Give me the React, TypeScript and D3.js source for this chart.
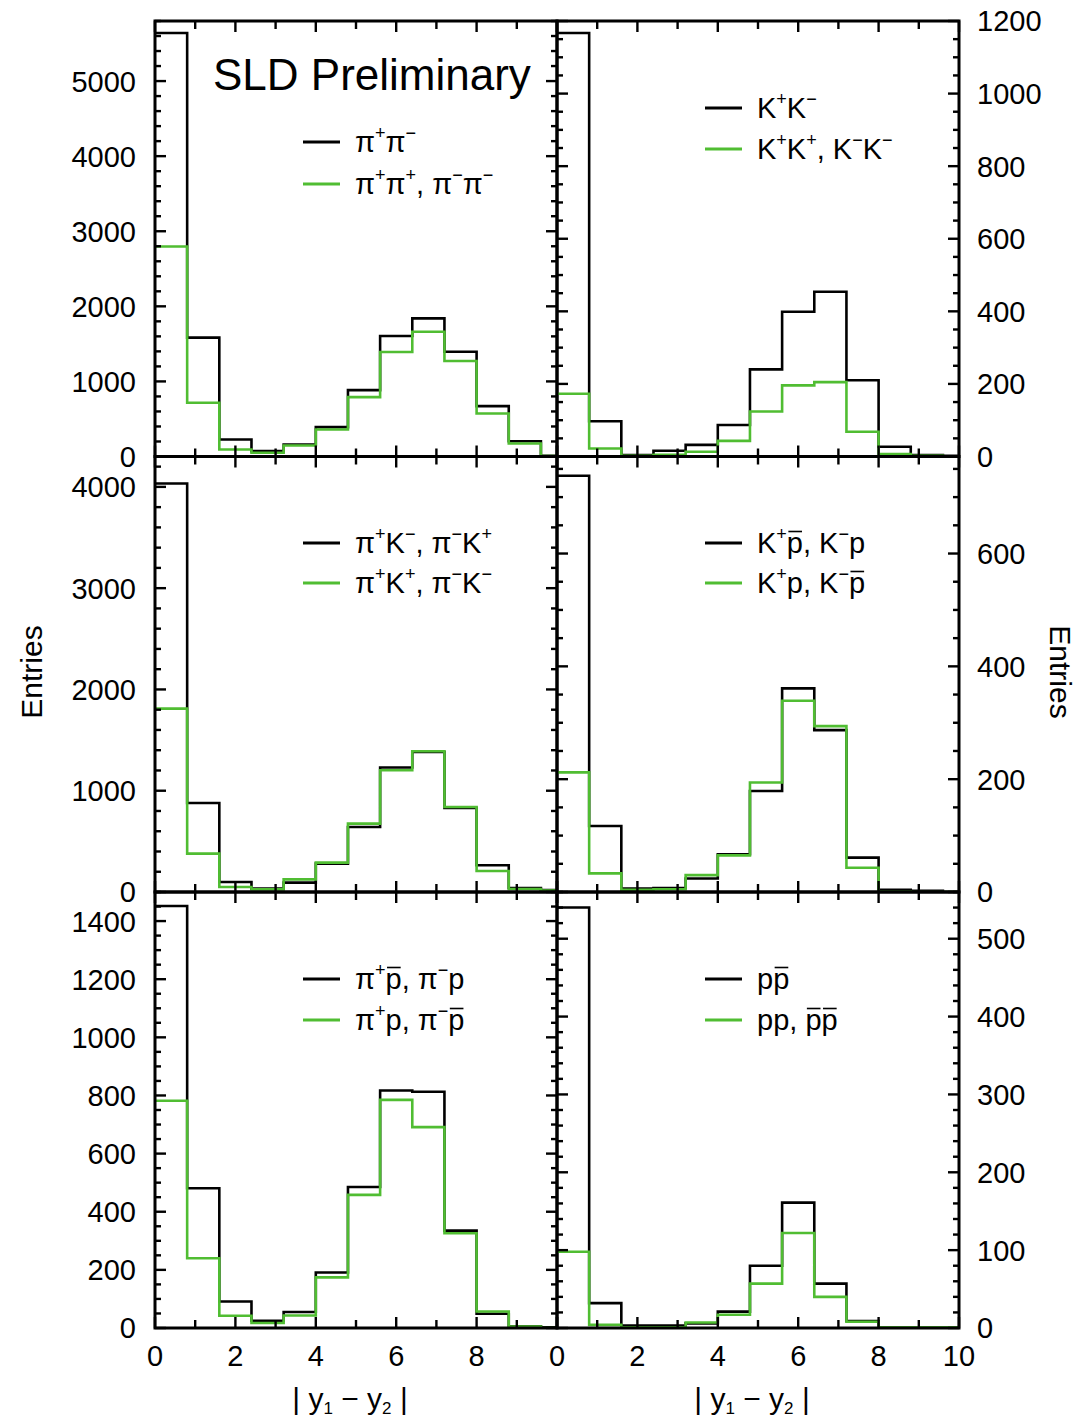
import React, { useLayoutEffect, useRef, useState } from 'react';
import * as d3 from 'd3';

// bin edges of |y1 - y2| (0.8 wide, last bin runs past 10 and is clipped)
const binEdges = [0, 0.8, 1.6, 2.4, 3.2, 4.0, 4.8, 5.6, 6.4, 7.2, 8.0, 8.8, 9.6, 10.4];

// opposite-sign (black) and same-sign (green) pairs
const pipiOpp = [5640, 1583, 227, 71, 160, 391, 884, 1604, 1840, 1396, 671, 204, 8];
const pipiSame = [2797, 716, 93, 49, 147, 360, 791, 1391, 1662, 1271, 573, 173, 5];
const kkOpp = [1167, 97, 4, 16, 32, 87, 240, 399, 454, 210, 27, 4, 2];
const kkSame = [173, 22, 2, 5, 13, 43, 124, 196, 205, 68, 7, 2, 0];
const piKOpp = [4034, 879, 99, 33, 93, 280, 642, 1229, 1383, 830, 264, 40, 20];
const piKSame = [1811, 379, 49, 26, 125, 290, 675, 1202, 1390, 840, 207, 30, 15];
const kpOpp = [738, 117, 6, 7, 24, 67, 179, 361, 287, 61, 4, 2, 0];
const kpSame = [212, 33, 4, 5, 30, 65, 194, 339, 294, 43, 1, 0, 0];
const pipOpp = [1452, 481, 91, 25, 55, 191, 485, 817, 813, 335, 49, 6, 2];
const pipSame = [782, 240, 42, 17, 43, 174, 458, 785, 691, 326, 57, 5, 0];
const ppOpp = [540, 32, 3, 3, 6, 21, 80, 161, 57, 9, 1, 0, 0];
const ppSame = [98, 4, 1, 1, 7, 17, 57, 122, 40, 8, 1, 1, 1];

// tick labels
const xLabelsLeft = [0, 2, 4, 6, 8];
const xLabelsRight = [0, 2, 4, 6, 8, 10];
const yLabelsTopL = [0, 1000, 2000, 3000, 4000, 5000];
const yLabelsTopR = [0, 200, 400, 600, 800, 1000, 1200];
const yLabelsMidL = [0, 1000, 2000, 3000, 4000];
const yLabelsMidR = [0, 200, 400, 600];
const yLabelsBotL = [0, 200, 400, 600, 800, 1000, 1200, 1400];
const yLabelsBotR = [0, 100, 200, 300, 400, 500];

// legend texts: [text, kind] where kind: '' normal, 'sup' superscript, 'bar' overlined
type Seg = [string, string];
const lgPipiOpp: Seg[] = [['π', ''], ['+', 'sup'], ['π', ''], ['−', 'sup']];
const lgPipiSame: Seg[] = [['π', ''], ['+', 'sup'], ['π', ''], ['+', 'sup'], [', π', ''], ['−', 'sup'], ['π', ''], ['−', 'sup']];
const lgKkOpp: Seg[] = [['K', ''], ['+', 'sup'], ['K', ''], ['−', 'sup']];
const lgKkSame: Seg[] = [['K', ''], ['+', 'sup'], ['K', ''], ['+', 'sup'], [', K', ''], ['−', 'sup'], ['K', ''], ['−', 'sup']];
const lgPiKOpp: Seg[] = [['π', ''], ['+', 'sup'], ['K', ''], ['−', 'sup'], [', π', ''], ['−', 'sup'], ['K', ''], ['+', 'sup']];
const lgPiKSame: Seg[] = [['π', ''], ['+', 'sup'], ['K', ''], ['+', 'sup'], [', π', ''], ['−', 'sup'], ['K', ''], ['−', 'sup']];
const lgKpOpp: Seg[] = [['K', ''], ['+', 'sup'], ['p', 'bar'], [', K', ''], ['−', 'sup'], ['p', '']];
const lgKpSame: Seg[] = [['K', ''], ['+', 'sup'], ['p, K', ''], ['−', 'sup'], ['p', 'bar']];
const lgPipOpp: Seg[] = [['π', ''], ['+', 'sup'], ['p', 'bar'], [', π', ''], ['−', 'sup'], ['p', '']];
const lgPipSame: Seg[] = [['π', ''], ['+', 'sup'], ['p, π', ''], ['−', 'sup'], ['p', 'bar']];
const lgPpOpp: Seg[] = [['p', ''], ['p', 'bar']];
const lgPpSame: Seg[] = [['pp, ', ''], ['p', 'bar'], ['p', 'bar']];

const GREEN = '#50bd32';
const FONT = 'Liberation Sans, Arial, Helvetica, sans-serif';
const colX = [[155, 557], [557, 959]];
const rowY = [[21, 456.5], [456.5, 892], [892, 1328]];

const panels = [
  { id: 'tl', col: 0, row: 0, max: 5800, major: 1000, minor: 200, labels: yLabelsTopL, opp: pipiOpp, same: pipiSame, lg: [lgPipiOpp, lgPipiSame], lgY: [142, 184] },
  { id: 'tr', col: 1, row: 0, max: 1200, major: 200, minor: 50, labels: yLabelsTopR, opp: kkOpp, same: kkSame, lg: [lgKkOpp, lgKkSame], lgY: [108, 149] },
  { id: 'ml', col: 0, row: 1, max: 4300, major: 1000, minor: 200, labels: yLabelsMidL, opp: piKOpp, same: piKSame, lg: [lgPiKOpp, lgPiKSame], lgY: [543, 583] },
  { id: 'mr', col: 1, row: 1, max: 772, major: 200, minor: 50, labels: yLabelsMidR, opp: kpOpp, same: kpSame, lg: [lgKpOpp, lgKpSame], lgY: [543, 583] },
  { id: 'bl', col: 0, row: 2, max: 1500, major: 200, minor: 50, labels: yLabelsBotL, opp: pipOpp, same: pipSame, lg: [lgPipOpp, lgPipSame], lgY: [979, 1020] },
  { id: 'br', col: 1, row: 2, max: 560, major: 100, minor: 20, labels: yLabelsBotR, opp: ppOpp, same: ppSame, lg: [lgPpOpp, lgPpSame], lgY: [979, 1020] },
];

function LegendText({ x, y, segs }: { x: number; y: number; segs: Seg[] }) {
  const ref = useRef<SVGTextElement>(null);
  const [bars, setBars] = useState<[number, number][]>([]);

  // thin overbars (antiparticles), placed where the browser actually put the glyphs
  useLayoutEffect(() => {
    if (!ref.current) return;
    const out: [number, number][] = [];
    ref.current.querySelectorAll('tspan[data-bar]').forEach((el) => {
      const b = (el as SVGTSpanElement).getBBox();
      out.push([b.x + 1.5, b.x + b.width - 1]);
    });
    setBars(out);
  }, []);

  return (
    <g>
      <text ref={ref} x={x} y={y} fontSize={29} fontFamily={FONT} fill="#000">
        {segs.map(([t, k], i) =>
          k === 'sup' ? (
            <tspan key={i} y={y - 13} fontSize={18}>{t}</tspan>
          ) : k === 'bar' ? (
            <tspan key={i} y={y} data-bar="1">{t}</tspan>
          ) : (
            <tspan key={i} y={y}>{t}</tspan>
          )
        )}
      </text>
      {bars.map(([a, b], i) => (
        <line key={i} x1={a} x2={b} y1={y - 21.5} y2={y - 21.5} stroke="#000" strokeWidth={1.6} />
      ))}
    </g>
  );
}

function Panel({ p }: { p: (typeof panels)[number] }) {
  const [x0, x1] = colX[p.col];
  const [y0, y1] = rowY[p.row];
  const x = d3.scaleLinear().domain([0, 10]).range([x0, x1]);
  const y = d3.scaleLinear().domain([0, p.max]).range([y1, y0]);
  const step = (vals: number[]) =>
    d3
      .line<number>()
      .x((e) => x(e))
      .y((_, i) => y(vals[Math.min(i, vals.length - 1)]))
      .curve(d3.curveStepAfter)(binEdges) as string;

  const xTicks = d3.range(0, 11, 1);
  const yMinor = d3.range(0, p.max + 0.001, p.minor);
  const isMajor = (v: number) => Math.abs(v / p.major - Math.round(v / p.major)) < 1e-6;
  const ticks: JSX.Element[] = [];
  xTicks.forEach((v) => {
    const len = v % 2 === 0 ? 11 : 8;
    ticks.push(<line key={'xb' + v} x1={x(v)} x2={x(v)} y1={y1} y2={y1 - len} />);
    ticks.push(<line key={'xt' + v} x1={x(v)} x2={x(v)} y1={y0} y2={y0 + len} />);
  });
  yMinor.forEach((v) => {
    const len = isMajor(v) ? 11 : 6;
    ticks.push(<line key={'yl' + v} x1={x0} x2={x0 + len} y1={y(v)} y2={y(v)} />);
    ticks.push(<line key={'yr' + v} x1={x1} x2={x1 - len} y1={y(v)} y2={y(v)} />);
  });

  const lgLineX = [x0 + 148, x0 + 185];
  return (
    <g>
      <defs>
        <clipPath id={'clip-' + p.id}>
          <rect x={x0} y={y0} width={x1 - x0} height={y1 - y0} />
        </clipPath>
      </defs>
      <g clipPath={`url(#clip-${p.id})`} fill="none" strokeWidth={2.6}>
        <path d={step(p.opp)} stroke="#000" />
        <path d={step(p.same)} stroke={GREEN} />
      </g>
      <g stroke="#000" strokeWidth={2.4}>{ticks}</g>
      <rect x={x0} y={y0} width={x1 - x0} height={y1 - y0} fill="none" stroke="#000" strokeWidth={3} />
      {p.labels.map((v) => (
        <text
          key={'lab' + v}
          x={p.col === 0 ? x0 - 19 : x1 + 18}
          y={y(v)}
          dy="0.36em"
          textAnchor={p.col === 0 ? 'end' : 'start'}
          fontSize={29}
          fontFamily={FONT}
        >
          {v}
        </text>
      ))}
      <line x1={lgLineX[0]} x2={lgLineX[1]} y1={p.lgY[0]} y2={p.lgY[0]} stroke="#000" strokeWidth={3} />
      <line x1={lgLineX[0]} x2={lgLineX[1]} y1={p.lgY[1]} y2={p.lgY[1]} stroke={GREEN} strokeWidth={3} />
      <LegendText x={x0 + 200} y={p.lgY[0] + 10} segs={p.lg[0]} />
      <LegendText x={x0 + 200} y={p.lgY[1] + 10} segs={p.lg[1]} />
    </g>
  );
}

function XTitle({ cx }: { cx: number }) {
  // relative dy shifts keep the whole title one text chunk, so it centres as a unit
  return (
    <text x={cx} y={1409} textAnchor="middle" fontSize={30} fontFamily={FONT}>
      <tspan>| y</tspan>
      <tspan dy={5} fontSize={17}>1</tspan>
      <tspan dy={-5}> − y</tspan>
      <tspan dy={5} fontSize={17}>2</tspan>
      <tspan dy={-5}> |</tspan>
    </text>
  );
}

export default function App() {
  const xl = d3.scaleLinear().domain([0, 10]).range(colX[0]);
  const xr = d3.scaleLinear().domain([0, 10]).range(colX[1]);
  return (
    <svg
      width={1087}
      height={1421}
      style={{ position: 'absolute', left: 0, top: 0, background: '#fff' }}
    >
      <rect width={1087} height={1421} fill="#fff" />
      {panels.map((p) => (
        <Panel key={p.id} p={p} />
      ))}
      <text x={213} y={90} fontSize={44} fontFamily={FONT}>SLD Preliminary</text>
      {xLabelsLeft.map((v) => (
        <text key={'xl' + v} x={xl(v)} y={1366} textAnchor="middle" fontSize={29} fontFamily={FONT}>{v}</text>
      ))}
      {xLabelsRight.map((v) => (
        <text key={'xr' + v} x={xr(v)} y={1366} textAnchor="middle" fontSize={29} fontFamily={FONT}>{v}</text>
      ))}
      <XTitle cx={350} />
      <XTitle cx={752} />
      <text transform="translate(42,672) rotate(-90)" textAnchor="middle" fontSize={30} fontFamily={FONT}>Entries</text>
      <text transform="translate(1050,672) rotate(90)" textAnchor="middle" fontSize={30} fontFamily={FONT}>Entries</text>
    </svg>
  );
}
